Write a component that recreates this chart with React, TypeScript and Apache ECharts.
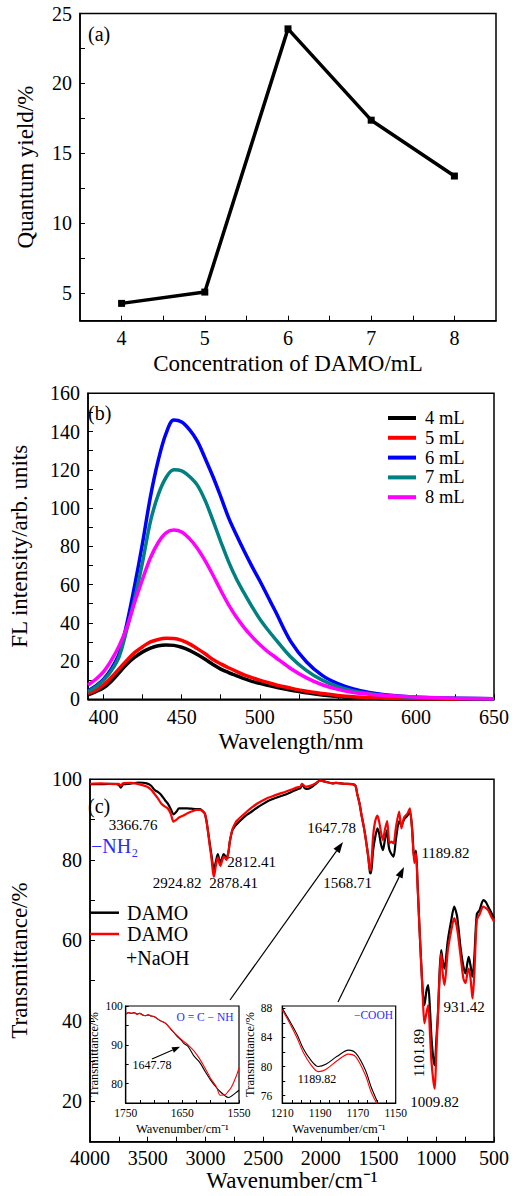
import React, { useEffect, useRef } from "react";
import * as echarts from "echarts";

const SERIF = "Liberation Serif";

// ---------- Panel (a) ----------
const damoConcentrations = [4, 5, 6, 7, 8];
const quantumYields = [4.24, 5.05, 23.9, 17.36, 13.36];
const aXTicks = [4, 4.5, 5, 5.5, 6, 6.5, 7, 7.5, 8];
const aXLabels = [4, 5, 6, 7, 8];
const aYTicks = [5, 7.5, 10, 12.5, 15, 17.5, 20, 22.5, 25];
const aYLabels = [5, 10, 15, 20, 25];

// ---------- Panel (b) ----------
const wavelengths = [390, 395, 400, 405, 410, 415, 420, 425, 430, 435, 440, 445, 450, 455, 460, 465, 470, 475, 480, 485, 490, 495, 500, 505, 510, 520, 530, 540, 550, 560, 570, 580, 600, 625, 650];
const fl4mL = [2.3, 4, 6, 9.5, 14, 18.5, 22, 24.8, 26.8, 28, 28.4, 28.2, 27.2, 25.6, 23.4, 20.9, 18.2, 15.8, 14, 12.4, 10.8, 9.4, 8.3, 7.3, 6.4, 4.7, 3.4, 2.3, 1.5, 1, 0.7, 0.4, 0.2, 0.1, 0.1];
const fl5mL = [3, 4.8, 7.5, 11.5, 16, 20.5, 24.5, 27.5, 30, 31.3, 31.9, 31.8, 30.8, 29, 26.5, 23.8, 20.8, 18.5, 16.5, 14.6, 12.8, 11.3, 10, 8.8, 7.6, 5.8, 4.2, 3, 2, 1.3, 0.9, 0.6, 0.3, 0.2, 0.1];
const fl6mL = [4.5, 7, 10.5, 16, 24, 40, 60, 82, 106, 125, 139, 146, 145, 141, 135, 126, 116.5, 106, 95, 86, 77.5, 69.5, 62, 54, 46, 30, 19.5, 12.5, 8.2, 5.4, 3.6, 2.4, 1.1, 0.5, 0.3];
const fl7mL = [4, 6.5, 10, 15, 22.5, 37, 53, 72, 93, 107, 116, 120, 119.5, 116.5, 112, 104, 93.5, 82.5, 72, 63, 55.5, 48.5, 42, 36.5, 31.5, 22, 15, 10, 6.6, 4.4, 3, 2, 1, 0.5, 0.3];
const fl8mL = [7.5, 10.5, 14.5, 20.5, 28, 38, 51, 63, 74, 82, 87, 88.5, 87.5, 84, 79, 72.5, 65, 57, 49.5, 43, 37.5, 32.8, 28.6, 25, 22, 16, 11.2, 7.6, 5.2, 3.6, 2.7, 2, 1.2, 0.6, 0.3];
const bSeriesNames = ["4 mL", "5 mL", "6 mL", "7 mL", "8 mL"];
const bXTicks = [400, 425, 450, 475, 500, 525, 550, 575, 600, 625, 650];
const bXLabels = [400, 450, 500, 550, 600, 650];
const bYTicks = [0, 10, 20, 30, 40, 50, 60, 70, 80, 90, 100, 110, 120, 130, 140, 150, 160];
const bYLabels = [0, 20, 40, 60, 80, 100, 120, 140, 160];

// ---------- Panel (c) ----------
const ftirWavenumbers = [4000, 3900, 3800, 3750, 3733, 3715, 3650, 3579, 3509, 3470, 3439, 3410, 3383, 3350, 3327, 3300, 3277, 3250, 3229, 3190, 3159, 3120, 3075, 3047, 3020, 3005, 2990, 2977, 2960, 2948, 2935, 2926, 2910, 2893, 2880, 2870, 2855, 2842, 2830, 2817, 2800, 2789, 2766, 2740, 2724, 2680, 2640, 2598, 2550, 2500, 2458, 2400, 2350, 2317, 2260, 2205, 2177, 2163, 2140, 2121, 2079, 2040, 2009, 1960, 1900, 1869, 1800, 1728, 1700, 1686, 1665, 1648, 1630, 1616, 1600, 1588, 1575, 1569, 1560, 1547, 1530, 1510, 1495, 1480, 1462, 1445, 1426, 1415, 1406, 1390, 1370, 1350, 1322, 1302, 1280, 1250, 1229, 1210, 1190, 1176, 1162, 1150, 1140, 1117, 1103, 1085, 1070, 1055, 1042, 1025, 1013, 1000, 985, 970, 957, 945, 929, 900, 870, 845, 820, 789, 765, 747, 730, 719, 705, 690, 685, 670, 649, 625, 593, 570, 551, 525, 500];
const ftirDamo = [98.8, 98.8, 98.9, 98.6, 97.9, 98.7, 98.9, 99.2, 99.0, 98.4, 97.3, 96.8, 96.1, 94.8, 94.0, 92.6, 91.3, 92.0, 92.8, 92.8, 92.8, 92.7, 92.6, 92.6, 92.0, 91.5, 89.5, 87.0, 83.5, 81.2, 78.5, 77.5, 79.5, 81.4, 80.0, 79.3, 80.5, 81.4, 81.0, 80.4, 82.0, 84.5, 87.4, 88.5, 89.0, 90.2, 91.2, 92.0, 93.0, 93.9, 94.6, 95.3, 95.8, 96.1, 96.8, 97.5, 97.8, 98.8, 97.8, 97.6, 98.1, 99.0, 99.7, 99.4, 99.0, 99.1, 98.9, 98.8, 98.4, 96.5, 94.0, 91.1, 88.5, 86.2, 83.0, 80.4, 76.9, 76.6, 78.0, 82.5, 85.5, 87.8, 86.5, 84.0, 82.4, 85.0, 87.4, 84.0, 82.5, 81.5, 80.8, 85.0, 89.6, 88.5, 90.0, 91.0, 92.0, 88.0, 80.0, 82.3, 74.0, 66.0, 59.7, 47.2, 43.9, 47.5, 48.9, 43.0, 36.0, 30.5, 29.0, 35.0, 42.0, 53.0, 57.6, 55.0, 53.0, 60.0, 65.0, 68.4, 66.0, 58.0, 53.5, 51.8, 54.5, 55.9, 54.0, 51.4, 51.0, 56.0, 66.5, 67.5, 70.0, 69.5, 68.4, 67.0, 65.5];
const ftirDamoNaoh = [98.9, 99.0, 98.8, 98.9, 98.4, 99.0, 99.1, 98.8, 98.2, 97.4, 96.3, 95.2, 94.0, 93.2, 92.8, 91.4, 89.5, 90.0, 90.5, 91.0, 91.5, 92.0, 92.4, 92.4, 92.0, 91.5, 89.5, 86.8, 83.0, 80.5, 77.0, 75.8, 78.5, 80.6, 79.2, 78.5, 79.8, 80.8, 80.5, 80.0, 82.0, 84.5, 87.6, 89.2, 89.8, 91.0, 92.0, 93.0, 94.0, 94.8, 95.4, 96.0, 96.5, 96.8, 97.4, 98.0, 98.2, 98.9, 98.3, 98.2, 98.5, 99.1, 99.7, 99.4, 99.0, 99.1, 98.9, 98.8, 98.4, 96.5, 94.0, 91.2, 88.5, 86.0, 83.0, 80.4, 77.4, 77.8, 80.0, 86.0, 89.5, 91.0, 89.5, 87.0, 84.9, 87.5, 89.6, 86.5, 84.1, 84.5, 84.1, 88.0, 92.0, 87.8, 90.5, 91.5, 92.8, 87.6, 79.2, 81.6, 73.5, 66.0, 59.7, 46.0, 39.4, 42.0, 43.9, 37.0, 30.0, 25.0, 23.2, 32.0, 42.0, 52.0, 56.8, 52.0, 48.9, 57.5, 62.5, 65.5, 63.0, 56.0, 50.5, 49.4, 52.0, 53.0, 51.0, 46.5, 45.6, 52.0, 65.0, 66.5, 68.4, 68.0, 67.5, 66.0, 64.7];
const cXTicks = [500, 750, 1000, 1250, 1500, 1750, 2000, 2250, 2500, 2750, 3000, 3250, 3500, 3750, 4000];
const cXLabels = [500, 1000, 1500, 2000, 2500, 3000, 3500, 4000];
const cYTicks = [10, 20, 30, 40, 50, 60, 70, 80, 90, 100];
const cYLabels = [20, 40, 60, 80, 100];

// inset: O=C-NH region
const insetAmideWn = [1750, 1745, 1740, 1735, 1730, 1725, 1720, 1715, 1710, 1705, 1700, 1690, 1680, 1670, 1660, 1652, 1647, 1640, 1630, 1620, 1610, 1600, 1590, 1583, 1575, 1569, 1563, 1556, 1550];
const insetAmideDamo = [97.9, 98.3, 98.1, 98.3, 97.9, 98.1, 97.7, 97.5, 97.7, 97.4, 97.3, 96.3, 95.6, 94.0, 92.3, 91.2, 90.3, 89.6, 87.2, 85.6, 83.2, 80.9, 79.0, 77.9, 76.9, 76.4, 76.8, 77.6, 78.3];
const insetAmideNaoh = [97.9, 98.3, 98.1, 98.3, 97.9, 98.1, 97.7, 97.5, 97.7, 97.4, 97.3, 96.3, 95.6, 94.0, 92.5, 91.4, 90.8, 90.0, 88.5, 86.5, 84.0, 81.3, 79.2, 77.0, 77.1, 78.0, 79.2, 81.5, 84.0];
const insetAmideXTicks = [1550, 1575, 1600, 1625, 1650, 1675, 1700, 1725, 1750];
const insetAmideXLabels = [1550, 1650, 1750];
const insetAmideYTicks = [75, 80, 85, 90, 95, 100];
const insetAmideYLabels = [80, 90, 100];

// inset: -COOH region
const insetCoohWn = [1210, 1206, 1202, 1199, 1195, 1191, 1187, 1181, 1175, 1171, 1166, 1163, 1160, 1157];
const insetCoohDamo = [88.0, 86.2, 84.3, 82.5, 80.9, 80.0, 80.3, 81.4, 82.25, 81.8, 79.5, 77.2, 75.35, 73.5];
const insetCoohNaoh = [87.8, 85.9, 83.8, 82.0, 80.3, 79.3, 79.6, 80.8, 81.7, 81.3, 78.8, 76.5, 74.9, 73.0];
const insetCoohXTicks = [1150, 1155, 1160, 1165, 1170, 1175, 1180, 1185, 1190, 1195, 1200, 1205, 1210];
const insetCoohXLabels = [1150, 1170, 1190, 1210];
const insetCoohYTicks = [76, 78, 80, 82, 84, 86, 88];
const insetCoohYLabels = [76, 80, 84, 88];

const zip = (xs: number[], ys: number[]) => xs.map((x, i) => [x, ys[i]]);

function axis(opts: any) {
  const {
    min, max, ticks, labels, name, nameGap, inverse, labelSize = 20, nameSize = 23,
    margin = 8, tickLen = 5, lineWidth = 1.5, gridIndex,
  } = opts;
  return {
    type: "value",
    gridIndex,
    min,
    max,
    inverse: !!inverse,
    name,
    nameLocation: "middle",
    nameGap,
    nameTextStyle: { fontFamily: SERIF, fontSize: nameSize, color: "#000" },
    axisLine: { show: true, onZero: false, lineStyle: { color: "#000", width: lineWidth } },
    axisTick: { show: true, inside: true, length: tickLen, customValues: ticks, lineStyle: { color: "#000", width: 1 } },
    axisLabel: {
      show: true,
      customValues: labels,
      fontFamily: SERIF,
      fontSize: labelSize,
      color: "#000",
      margin,
      formatter: (v: number) => String(v),
    },
    splitLine: { show: false },
  };
}

function arrow(x1: number, y1: number, x2: number, y2: number, len: number, half: number, lw: number) {
  const dx = x2 - x1;
  const dy = y2 - y1;
  const d = Math.sqrt(dx * dx + dy * dy);
  const ux = dx / d;
  const uy = dy / d;
  const bx = x2 - ux * len;
  const by = y2 - uy * len;
  return [
    { type: "line", shape: { x1, y1, x2: bx, y2: by }, style: { stroke: "#000", lineWidth: lw } },
    {
      type: "polygon",
      shape: { points: [[x2, y2], [bx - uy * half, by + ux * half], [bx + uy * half, by - ux * half]] },
      style: { fill: "#000" },
    },
  ];
}

function txt(text: string, x: number, y: number, size: number, opts: any = {}) {
  return {
    type: "text",
    x,
    y,
    rotation: opts.rotation || 0,
    style: {
      text,
      fontFamily: SERIF,
      fontSize: size,
      fill: opts.fill || "#000",
      align: opts.align || "center",
      verticalAlign: "middle",
    },
    z: 100,
  };
}

export default function App() {
  const ref = useRef<HTMLDivElement>(null);

  useEffect(() => {
    document.body.style.margin = "0";
    if (!ref.current) return;
    const chart = echarts.init(ref.current, null, { renderer: "svg" });
    const bColors = ["#000000", "#ff0000", "#0000ff", "#008080", "#ff00ff"];
    const bData = [fl4mL, fl5mL, fl6mL, fl7mL, fl8mL];
    const blue = "#2b2bff";

    const option: any = {
      animation: false,
      backgroundColor: "#fff",
      grid: [
        { left: 80, top: 13.5, width: 416, height: 307.2, show: true, borderColor: "#000", borderWidth: 1.5, backgroundColor: "transparent" },
        { left: 80, top: 393.3, width: 416, height: 306, show: true, borderColor: "#000", borderWidth: 1.5, backgroundColor: "transparent" },
        { left: 80, top: 779.3, width: 416, height: 362.4, show: true, borderColor: "#000", borderWidth: 1.5, backgroundColor: "transparent" },
        { left: 125.7, top: 1006, width: 113.3, height: 97, show: true, borderColor: "#000", borderWidth: 1.2, backgroundColor: "#fff" },
        { left: 282.3, top: 1006, width: 113.4, height: 97, show: true, borderColor: "#000", borderWidth: 1.2, backgroundColor: "#fff" },
      ],
      xAxis: [
        axis({ gridIndex: 0, min: 3.5, max: 8.5, ticks: aXTicks, labels: aXLabels, name: "Concentration of DAMO/mL", nameGap: 31, margin: 7 }),
        axis({ gridIndex: 1, min: 390, max: 650, ticks: bXTicks, labels: bXLabels, name: "Wavelength/nm", nameGap: 31, margin: 8 }),
        axis({ gridIndex: 2, min: 500, max: 4000, inverse: true, ticks: cXTicks, labels: cXLabels, name: "Wavenumber/cm⁻¹", nameGap: 24, margin: 6.5 }),
        axis({ gridIndex: 3, min: 1550, max: 1750, inverse: true, ticks: insetAmideXTicks, labels: insetAmideXLabels, name: "Wavenumber/cm⁻¹", nameGap: 19, labelSize: 11.5, nameSize: 12.5, margin: 4, tickLen: 3, lineWidth: 1.2 }),
        axis({ gridIndex: 4, min: 1150, max: 1210, inverse: true, ticks: insetCoohXTicks, labels: insetCoohXLabels, name: "Wavenumber/cm⁻¹", nameGap: 19, labelSize: 11.5, nameSize: 12.5, margin: 4, tickLen: 3, lineWidth: 1.2 }),
      ],
      yAxis: [
        axis({ gridIndex: 0, min: 3, max: 25, ticks: aYTicks, labels: aYLabels, name: "Quantum yield/%", nameGap: 43 }),
        axis({ gridIndex: 1, min: 0, max: 160, ticks: bYTicks, labels: bYLabels, name: "FL intensity/arb. units", nameGap: 57 }),
        axis({ gridIndex: 2, min: 10, max: 100, ticks: cYTicks, labels: cYLabels, name: "Transmittance/%", nameGap: 59 }),
        axis({ gridIndex: 3, min: 75, max: 100, ticks: insetAmideYTicks, labels: insetAmideYLabels, name: "Transmittance/%", nameGap: 25, labelSize: 11.5, nameSize: 12.5, margin: 3, tickLen: 3, lineWidth: 1.2 }),
        axis({ gridIndex: 4, min: 75, max: 88.3, ticks: insetCoohYTicks, labels: insetCoohYLabels, name: "Transmittance/%", nameGap: 20, labelSize: 11.5, nameSize: 12.5, margin: 10, tickLen: 3, lineWidth: 1.2 }),
      ],
      legend: [
        {
          data: bSeriesNames,
          orient: "vertical",
          left: 388,
          top: 408.5,
          padding: 0,
          itemWidth: 28,
          itemHeight: 4,
          itemGap: 0.8,
          icon: "rect",
          selectedMode: false,
          textStyle: { fontFamily: SERIF, fontSize: 18.5, color: "#000", padding: [0, 0, 0, 4] },
        },
        {
          data: ["DAMO", "DAMO+NaOH"],
          orient: "vertical",
          left: 90,
          top: 902.7,
          padding: 0,
          itemWidth: 29,
          itemHeight: 2.5,
          itemGap: 1.3,
          icon: "rect",
          selectedMode: false,
          formatter: (n: string) => (n === "DAMO+NaOH" ? "DAMO" : n),
          textStyle: { fontFamily: SERIF, fontSize: 20, color: "#000", padding: [0, 0, 0, 3] },
        },
      ],
      series: [
        {
          type: "line",
          name: "Quantum yield",
          xAxisIndex: 0,
          yAxisIndex: 0,
          data: zip(damoConcentrations, quantumYields),
          symbol: "rect",
          symbolSize: 7,
          lineStyle: { color: "#000", width: 3.5 },
          itemStyle: { color: "#000" },
        },
        ...bSeriesNames.map((n, i) => ({
          type: "line",
          name: n,
          xAxisIndex: 1,
          yAxisIndex: 1,
          data: zip(wavelengths, bData[i]),
          showSymbol: false,
          smooth: 0.35,
          lineStyle: { color: bColors[i], width: 3.5 },
          itemStyle: { color: bColors[i] },
        })),
        {
          type: "line",
          name: "DAMO",
          xAxisIndex: 2,
          yAxisIndex: 2,
          data: zip(ftirWavenumbers, ftirDamo),
          showSymbol: false,
          smooth: 0.25,
          lineStyle: { color: "#000", width: 2.2 },
          itemStyle: { color: "#000" },
        },
        {
          type: "line",
          name: "DAMO+NaOH",
          xAxisIndex: 2,
          yAxisIndex: 2,
          data: zip(ftirWavenumbers, ftirDamoNaoh),
          showSymbol: false,
          smooth: 0.25,
          lineStyle: { color: "#ff0000", width: 2.2 },
          itemStyle: { color: "#ff0000" },
        },
        {
          type: "line",
          name: "DAMO",
          xAxisIndex: 3,
          yAxisIndex: 3,
          data: zip(insetAmideWn, insetAmideDamo),
          showSymbol: false,
          smooth: 0.3,
          lineStyle: { color: "#000", width: 1.1 },
          itemStyle: { color: "#000" },
        },
        {
          type: "line",
          name: "DAMO+NaOH",
          xAxisIndex: 3,
          yAxisIndex: 3,
          data: zip(insetAmideWn, insetAmideNaoh),
          showSymbol: false,
          smooth: 0.3,
          lineStyle: { color: "#ff0000", width: 1.1 },
          itemStyle: { color: "#ff0000" },
        },
        {
          type: "line",
          name: "DAMO",
          xAxisIndex: 4,
          yAxisIndex: 4,
          data: zip(insetCoohWn, insetCoohDamo),
          showSymbol: false,
          smooth: 0.3,
          lineStyle: { color: "#000", width: 1.1 },
          itemStyle: { color: "#000" },
        },
        {
          type: "line",
          name: "DAMO+NaOH",
          xAxisIndex: 4,
          yAxisIndex: 4,
          data: zip(insetCoohWn, insetCoohNaoh),
          showSymbol: false,
          smooth: 0.3,
          lineStyle: { color: "#ff0000", width: 1.1 },
          itemStyle: { color: "#ff0000" },
        },
      ],
      graphic: [
        txt("(a)", 88, 34, 20, { align: "left" }),
        txt("(b)", 88, 413, 20, { align: "left" }),
        txt("(c)", 88, 806, 20, { align: "left" }),
        txt("3366.76", 133, 825, 15),
        txt("−NH₂", 91, 846, 20, { align: "left", fill: blue }),
        txt("2924.82", 177, 883, 15),
        txt("2878.41", 233.5, 883, 15),
        txt("2812.41", 251.5, 861.7, 15),
        txt("1647.78", 331.5, 828, 15),
        txt("1568.71", 347.5, 883, 15),
        txt("1189.82", 445.5, 852.7, 15),
        txt("931.42", 464, 1007, 15),
        txt("1101.89", 419, 1053, 15, { rotation: Math.PI / 2 }),
        txt("1009.82", 434.5, 1101.7, 15),
        txt("+NaOH", 126, 958, 20, { align: "left" }),
        txt("1647.78", 152, 1065, 12),
        txt("1189.82", 317, 1079, 12),
        txt("O = C − NH", 205, 1016.7, 11.5, { fill: blue }),
        txt("−COOH", 373.5, 1015, 11.5, { fill: blue }),
        ...arrow(230, 1000, 343, 842, 11, 3.8, 1.2),
        ...arrow(338, 1002, 404, 867, 11, 3.8, 1.2),
        ...arrow(152, 1059, 180, 1046.7, 8, 3, 1.1),
      ],
    };

    chart.setOption(option);
    return () => chart.dispose();
  }, []);

  return <div ref={ref} style={{ position: "absolute", left: 0, top: 0, width: 512, height: 1196 }} />;
}
